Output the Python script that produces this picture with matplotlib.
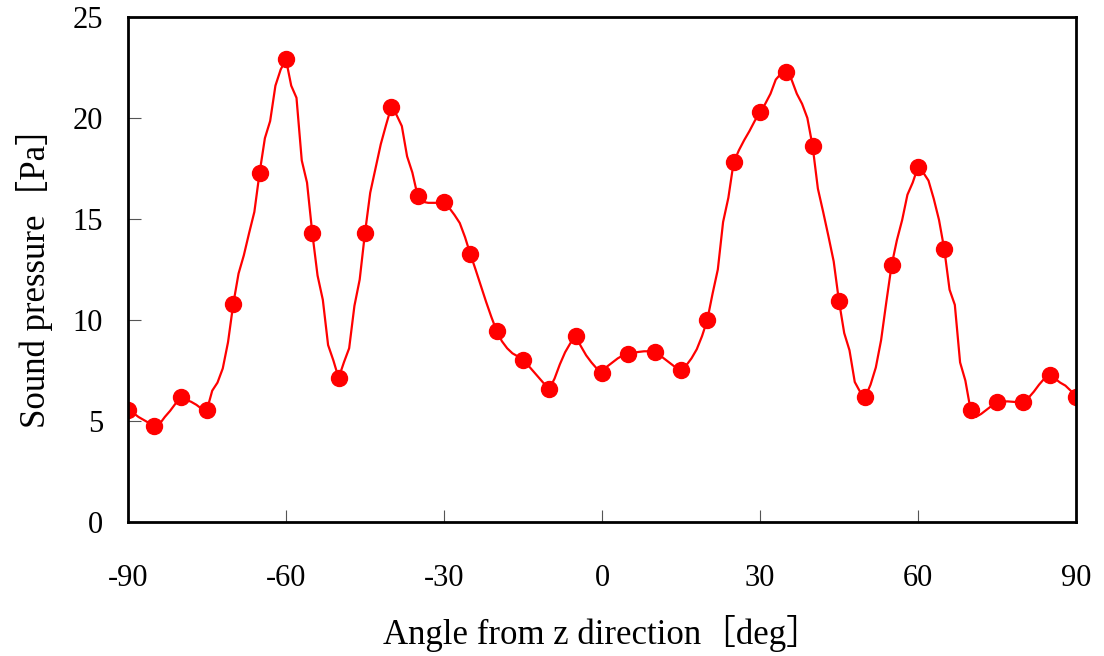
import numpy as np
import matplotlib.pyplot as plt

# angle every 1 deg for the line, markers every 5 deg
angle = np.arange(-90, 91, 1)
pressure = [
    5.54, 5.4, 5.2, 5.05, 4.9,          # -90 .. -86
    4.75, 4.85, 5.2, 5.5, 5.85,         # -85 .. -81
    6.2, 6.05, 5.95, 5.8, 5.6,          # -80 .. -76
    5.55, 6.5, 6.9, 7.6, 8.9,           # -75 .. -71
    10.8, 12.3, 13.2, 14.3, 15.35,      # -70 .. -66
    17.3, 19.0, 19.85, 21.6, 22.4,      # -65 .. -61
    22.9, 21.6, 21.0, 17.9, 16.8,       # -60 .. -56
    14.3, 12.2, 11.0, 8.76, 8.0,        # -55 .. -51
    7.13, 7.9, 8.6, 10.7, 12.0,         # -50 .. -46
    14.3, 16.3, 17.5, 18.7, 19.65,      # -45 .. -41
    20.55, 20.15, 19.6, 18.1, 17.3,     # -40 .. -36
    16.15, 15.85, 15.8, 15.8, 15.8,     # -35 .. -31
    15.85, 15.55, 15.2, 14.8, 14.1,     # -30 .. -26
    13.27, 12.5, 11.7, 10.9, 10.15,     # -25 .. -21
    9.46, 8.95, 8.6, 8.35, 8.2,         # -20 .. -16
    8.02, 7.75, 7.45, 7.15, 6.85,       # -15 .. -11
    6.58, 7.1, 7.8, 8.4, 8.85,          # -10 .. -6
    9.2, 8.7, 8.25, 7.9, 7.6,           # -5 .. -1
    7.38, 7.7, 7.9, 8.1, 8.25,          # 0 .. 4
    8.32, 8.38, 8.42, 8.45, 8.45,       # 5 .. 9
    8.42, 8.25, 8.05, 7.85, 7.65,       # 10 .. 14
    7.52, 7.75, 8.1, 8.55, 9.2,         # 15 .. 19
    10.0, 11.3, 12.5, 14.85, 16.05,     # 20 .. 24
    17.8, 18.4, 18.9, 19.35, 19.85,     # 25 .. 29
    20.3, 20.7, 21.2, 21.9, 22.2,       # 30 .. 34
    22.28, 21.9, 21.2, 20.7, 20.0,      # 35 .. 39
    18.6, 16.5, 15.35, 14.15, 12.9,     # 40 .. 44
    10.94, 9.35, 8.5, 6.93, 6.45,       # 45 .. 49
    6.19, 6.8, 7.65, 9.0, 10.9,         # 50 .. 54
    12.72, 13.95, 14.95, 16.2, 16.8,    # 55 .. 59
    17.57, 17.3, 16.9, 16.0, 14.95,     # 60 .. 64
    13.5, 11.5, 10.75, 7.9, 7.0,        # 65 .. 69
    5.54, 5.2, 5.35, 5.55, 5.75,        # 70 .. 74
    5.94, 5.96, 5.97, 5.95, 5.93,       # 75 .. 79
    5.94, 6.15, 6.45, 6.8, 7.1,         # 80 .. 84
    7.28, 7.1, 6.9, 6.75, 6.5,          # 85 .. 89
    6.19,                               # 90
]
pressure = np.array(pressure)

x_ticks = [-90, -60, -30, 0, 30, 60, 90]
y_ticks = [0, 5, 10, 15, 20, 25]

plt.rcParams['font.family'] = ['Liberation Serif', 'Noto Sans CJK JP']
plt.rcParams['axes.unicode_minus'] = False

fig = plt.figure(figsize=(11.04, 6.56), dpi=100)
ax = fig.add_axes([0.1159, 0.2043, 0.8587, 0.7698])

ax.plot(angle, pressure, color='red', lw=1.6)
ax.plot(angle[::5], pressure[::5], 'o', color='red', ms=11.5)

ax.set_xlim(-90, 90)
ax.set_ylim(0, 25)
ax.set_xticks(x_ticks)
ax.set_yticks(y_ticks)
ax.tick_params(direction='in', length=9, width=0.8, color='#555555')
ax.tick_params(axis='x', pad=30, labelsize=22)
ax.tick_params(axis='y', pad=18, labelsize=22)
for s in ax.spines.values():
    s.set_linewidth(2)

ax.set_xlabel('Angle from z direction［deg］', fontsize=25, labelpad=16)
ax.set_ylabel('Sound pressure［Pa］', fontsize=25, labelpad=14)

fig.savefig('out.png', dpi=100)
